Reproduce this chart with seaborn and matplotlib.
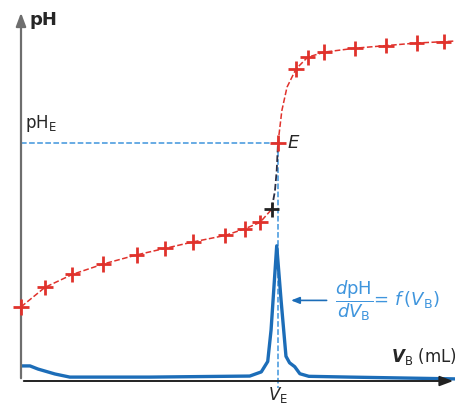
import matplotlib
matplotlib.use("Agg")
import matplotlib.pyplot as plt
import seaborn as sns
import numpy as np

# titration points (V_B in mL, pH)
vb_pts = [0, 0.93, 2.0, 3.2, 4.5, 5.6, 6.7, 7.95, 8.7, 9.3, 9.75, 10.0, 10.7, 11.15, 11.8, 13.0, 14.2, 15.4, 16.45]
ph_pts = [2.85, 3.6, 4.1, 4.5, 4.85, 5.1, 5.35, 5.6, 5.85, 6.1, 6.6, 9.15, 12.0, 12.45, 12.65, 12.8, 12.9, 13.0, 13.05]

# drawn titration curve through the points (extra points in the jump)
vb_curve = [0, 0.93, 2.0, 3.2, 4.5, 5.6, 6.7, 7.95, 8.7, 9.3, 9.75]
ph_curve = [2.85, 3.6, 4.1, 4.5, 4.85, 5.1, 5.35, 5.6, 5.85, 6.1, 6.6]
vb_jump = [9.75, 9.88, 9.95, 10.0]
ph_jump = [6.6, 7.3, 8.1, 9.15]
vb_top = [10.0, 10.15, 10.35, 10.7, 11.15, 11.8, 13.0, 14.2, 15.4, 16.45, 16.95]
ph_top = [9.15, 10.4, 11.3, 12.0, 12.45, 12.65, 12.8, 12.9, 13.0, 13.05, 13.08]

# derivative dpH/dV_B (arbitrary scale)
vb_der = [0, 0.35, 0.66, 1.32, 1.9, 5.0, 8.9, 9.35, 9.6, 9.73, 9.95, 10.12, 10.31, 10.45, 10.65, 10.85, 11.2, 12.8, 16.95]
der = [0.58, 0.58, 0.46, 0.27, 0.15, 0.15, 0.19, 0.35, 0.75, 1.96, 5.2, 3.1, 0.95, 0.7, 0.55, 0.28, 0.18, 0.15, 0.08]

VE = 10.0
pHE = 9.15

red = "#e0322c"
blue = "#1c6db8"
lblue = "#3f95dd"

sns.set_style("white")
fig = plt.figure(figsize=(4.56, 4.07), dpi=100)
ax = fig.add_axes([21 / 456, 26 / 407, 435 / 456, 371 / 407])
ax.set_xlim(0, 435 / 25.7)
ax.set_ylim(0, 371 / 26)
for s in ax.spines.values():
    s.set_visible(False)
ax.set_xticks([])
ax.set_yticks([])

# axes arrows
ax.annotate("", xy=(0, 1.0), xytext=(0, 0), xycoords="axes fraction",
            arrowprops=dict(arrowstyle="-|>,head_width=0.3,head_length=0.8", color="#6e6e6e", lw=1.6),
            annotation_clip=False)
ax.annotate("", xy=(1.0, 0), xytext=(0, 0), xycoords="axes fraction",
            arrowprops=dict(arrowstyle="-|>,head_width=0.3,head_length=0.8", color="#222222", lw=1.4),
            annotation_clip=False)

# guide lines
ax.plot([0, VE], [pHE, pHE], ls="--", color=lblue, lw=1.1)
ax.plot([VE, VE], [pHE, -0.25], ls="--", color=lblue, lw=1.1, clip_on=False)

# derivative
sns.lineplot(x=vb_der, y=der, ax=ax, color=blue, lw=2.4, sort=False, estimator=None)

# titration curve
sns.lineplot(x=vb_curve, y=ph_curve, ax=ax, color=red, lw=1.1, linestyle="--", sort=False, estimator=None)
sns.lineplot(x=vb_jump, y=ph_jump, ax=ax, color="#2b2f45", lw=1.3, linestyle="--", sort=False, estimator=None)
sns.lineplot(x=vb_top, y=ph_top, ax=ax, color=red, lw=1.1, linestyle="--", sort=False, estimator=None)

cols = [red] * len(vb_pts)
cols[10] = "#222222"
sns.scatterplot(x=vb_pts, y=ph_pts, ax=ax, marker="+", s=120, linewidth=2.0,
                color=cols, zorder=5, clip_on=False)

# labels
ax.text(0.35, 13.9, "pH", fontsize=13, fontweight="bold", va="center", ha="left")
ax.text(0.15, 9.5, r"pH$_\mathregular{E}$", fontsize=12, va="bottom", ha="left")
ax.text(VE + 0.35, pHE, "$E$", fontsize=13, va="center", ha="left")
ax.text(VE, -0.15, r"$V_\mathregular{E}$", fontsize=12, va="top", ha="center")
ax.text(16.95, 0.55, r"$\boldsymbol{V}_\mathregular{B}$ (mL)", fontsize=12, va="bottom", ha="right")
ax.text(12.2, 3.1, r"$\dfrac{d\mathregular{pH}}{dV_\mathregular{B}}$= $f\,(V_\mathregular{B})$",
        fontsize=13, color=lblue, va="center", ha="left")
ax.annotate("", xy=(10.4, 3.1), xytext=(12.0, 3.1),
            arrowprops=dict(arrowstyle="-|>,head_width=0.2,head_length=0.5", color=blue, lw=1.2))

fig.savefig("out.png", dpi=100)
